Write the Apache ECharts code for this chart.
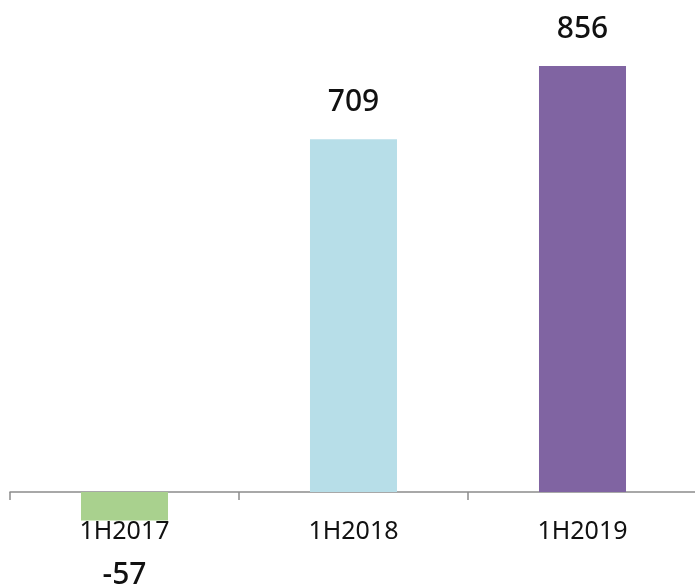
<!DOCTYPE html>
<html>
<head>
<meta charset="utf-8">
<script src="https://cdn.jsdelivr.net/npm/echarts@6/dist/echarts.min.js"></script>
<style>
  html, body { margin: 0; padding: 0; background: #fff; }
  #chart { width: 695px; height: 587px; }
</style>
</head>
<body>
<div id="chart"></div>
<script>
var categories = ['1H2017', '1H2018', '1H2019'];
var values = [-57, 709, 856];
var barColors = ['#A9D18E', '#B7DEE8', '#8064A2'];

var chart = echarts.init(document.getElementById('chart'));

var data = values.map(function (v, i) {
    return {
        value: v,
        itemStyle: { color: barColors[i] },
        label: v < 0 ? { position: 'bottom', distance: 40 } : { position: 'top', distance: 22 }
    };
});

var option = {
    animation: false,
    grid: { left: 10, width: 687, top: 44.1, height: 476.3, outerBoundsMode: 'none', containLabel: false },
    xAxis: {
        type: 'category',
        data: categories,
        axisLine: { show: true, onZero: true, lineStyle: { color: '#8c8c8c', width: 1.5 } },
        axisTick: { show: true, length: 8, lineStyle: { color: '#8c8c8c', width: 1.5 } },
        axisLabel: {
            color: '#111',
            fontFamily: 'Noto Sans',
            fontSize: 25,
            margin: -1
        }
    },
    yAxis: {
        type: 'value',
        min: -57,
        max: 900,
        show: false,
        splitLine: { show: false }
    },
    series: [{
        type: 'bar',
        data: data,
        barWidth: '38%',
        label: {
            show: true,
            color: '#111',
            fontFamily: 'Noto Sans',
            fontSize: 30,
            fontWeight: 500
        }
    }]
};

chart.setOption(option);
</script>
</body>
</html>
